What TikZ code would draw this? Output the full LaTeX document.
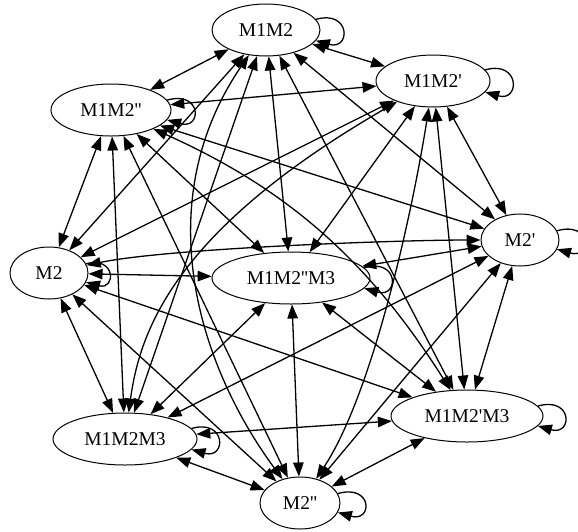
\documentclass[tikz,border=0pt]{standalone}
\usepackage{fontspec}
\newfontfamily\gvfont{Liberation Serif}
\usetikzlibrary{shapes.geometric,arrows.meta}
\begin{document}
\begin{tikzpicture}[x=1pt,y=-1pt,
  st/.style={ellipse,draw,line width=1pt,inner sep=0pt,minimum height=52pt,font=\gvfont\fontsize{19.5}{23}\selectfont},
  tr/.style={line width=1.3pt,{Triangle[length=14pt,width=10.5pt]}-{Triangle[length=14pt,width=10.5pt]}},
  lp/.style={line width=1.3pt,-{Triangle[length=14pt,width=10.5pt]}}]
\useasboundingbox (0,0) rectangle (578,531);
\node[st,minimum width=108pt] (A) at (266,30) {M1M2};
\node[st,minimum width=114pt] (B) at (433,81) {M1M2'};
\node[st,minimum width=120pt] (C) at (111,110) {M1M2''};
\node[st,minimum width=78pt] (D) at (49,273) {M2};
\node[st,minimum width=158pt] (E) at (291,278) {M1M2''M3};
\node[st,minimum width=78pt] (F) at (520,240) {M2'};
\node[st,minimum width=144pt] (G) at (125,439) {M1M2M3};
\node[st,minimum width=152pt] (H) at (467,416) {M1M2'M3};
\node[st,minimum width=80pt] (I) at (300,503) {M2''};
% edges
\draw[tr] (A) -- (B);
\draw[tr] (A) -- (C);
\draw[tr] (A) -- (D);
\draw[tr] (A) -- (E);
\draw[tr] (A) -- (F);
\draw[tr] (A) -- (G);
\draw[tr] (A) -- (H);
\draw[tr] (A) .. controls (150,200) and (195,360) .. (I);
\draw[tr] (B) -- (C);
\draw[tr] (B) -- (D);
\draw[tr] (B) -- (E);
\draw[tr] (B) -- (F);
\draw[tr] (B) -- (H);
\draw[tr] (B) .. controls (412,215) and (372,395) .. (I);
\draw[tr] (B) .. controls (175,230) and (140,330) .. (G);
\draw[tr] (C) -- (D);
\draw[tr] (C) -- (E);
\draw[tr] (C) -- (F);
\draw[tr] (C) -- (G);
\draw[tr] (C) -- (I);
\draw[tr] (C) .. controls (290,190) and (370,263) .. (H);
\draw[tr] (D) -- (E);
\draw[tr] (D) -- (G);
\draw[tr] (D) -- (H);
\draw[tr] (D) -- (I);
\draw[tr] (D) .. controls (170,248) and (400,240) .. (F);
\draw[tr] (E) -- (F);
\draw[tr] (E) -- (G);
\draw[tr] (E) -- (H);
\draw[tr] (E) -- (I);
\draw[tr] (F) -- (G);
\draw[tr] (F) -- (H);
\draw[tr] (F) -- (I);
\draw[tr] (G) -- (H);
\draw[tr] (G) -- (I);
\draw[tr] (H) -- (I);
% self loops
\draw[lp] (A.12) .. controls +(35,-10) and +(35,10) .. (A.-12);
\draw[lp] (B.12) .. controls +(35,-10) and +(35,10) .. (B.-12);
\draw[lp] (C.10) .. controls +(35,-10) and +(35,10) .. (C.-10);
\draw[lp] (D.14) .. controls +(30,-8) and +(30,8) .. (D.-14);
\draw[lp] (E.8) .. controls +(35,-10) and +(35,10) .. (E.-8);
\draw[lp] (F.14) .. controls +(35,-10) and +(35,10) .. (F.-14);
\draw[lp] (G.9) .. controls +(35,-10) and +(35,10) .. (G.-9);
\draw[lp] (H.8) .. controls +(35,-10) and +(35,10) .. (H.-8);
\draw[lp] (I.14) .. controls +(35,-10) and +(35,10) .. (I.-14);
\end{tikzpicture}
\end{document}
